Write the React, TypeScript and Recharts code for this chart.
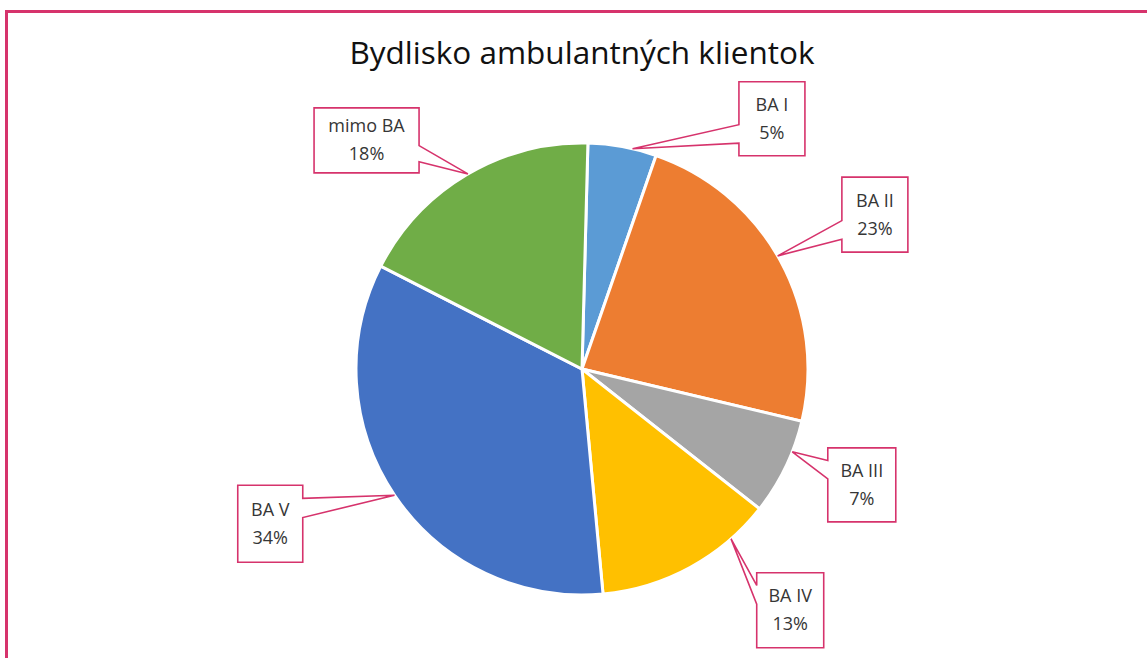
import React from 'react';
import { PieChart, Pie, Cell } from 'recharts';

const TITLE = 'Bydlisko ambulantných klientok';
const names = ['BA I', 'BA II', 'BA III', 'BA IV', 'BA V', 'mimo BA'];
const values = [4.9, 23.4, 6.9, 12.9, 34.0, 17.9];
const colors = ['#5B9BD5', '#ED7D31', '#A5A5A5', '#FFC000', '#4472C4', '#70AD47'];

const data = names.map((name, i) => ({ name, value: values[i] }));

// callout placement: box centre angle (deg clockwise from top), distance in
// multiples of the outer radius, box size, and tip shift from the mid-angle
const LABEL_LAYOUT = [
  { angle: 37.2, dist: 1.39, w: 66, h: 74, tipShift: 2.6 },
  { angle: 62.2, dist: 1.465, w: 66, h: 75, tipShift: -1.3 },
  { angle: 112.5, dist: 1.34, w: 68, h: 74, tipShift: -4.3 },
  { angle: 139.2, dist: 1.41, w: 67, h: 75, tipShift: -12.7 },
  { angle: 243.6, dist: 1.54, w: 65, h: 77, tipShift: 0.2 },
  { angle: 316.7, dist: 1.39, w: 105, h: 65, tipShift: 0.4 },
];

const PINK = '#d6336c';
const RAD = Math.PI / 180;
const FONT = "'Open Sans', sans-serif";

function calloutPath(x0: number, y0: number, x1: number, y1: number, tx: number, ty: number) {
  const w = x1 - x0;
  const h = y1 - y0;
  const cy = (y0 + y1) / 2;
  const cx = (x0 + x1) / 2;
  if (tx < x0 || tx > x1) {
    const low = ty > cy;
    const a = low ? y0 + 0.58 * h : y0 + 0.17 * h;
    const b = low ? y0 + 0.83 * h : y0 + 0.42 * h;
    if (tx < x0) {
      return `M${x0},${y0} L${x1},${y0} L${x1},${y1} L${x0},${y1} L${x0},${b} L${tx},${ty} L${x0},${a} Z`;
    }
    return `M${x0},${y0} L${x1},${y0} L${x1},${a} L${tx},${ty} L${x1},${b} L${x1},${y1} L${x0},${y1} Z`;
  }
  const right = tx > cx;
  const a = right ? x0 + 0.58 * w : x0 + 0.17 * w;
  const b = right ? x0 + 0.83 * w : x0 + 0.42 * w;
  if (ty < y0) {
    return `M${x0},${y0} L${a},${y0} L${tx},${ty} L${b},${y0} L${x1},${y0} L${x1},${y1} L${x0},${y1} Z`;
  }
  return `M${x0},${y0} L${x1},${y0} L${x1},${y1} L${b},${y1} L${tx},${ty} L${a},${y1} L${x0},${y1} Z`;
}

const renderLabel = (props: any) => {
  const { cx, cy, midAngle, outerRadius, percent, index, name } = props;
  const lay = LABEL_LAYOUT[index];
  const mid = 90 - midAngle; // clockwise from top
  const tipA = (mid + lay.tipShift) * RAD;
  const tx = cx + outerRadius * Math.sin(tipA);
  const ty = cy - outerRadius * Math.cos(tipA);
  const bA = lay.angle * RAD;
  const bx = cx + outerRadius * lay.dist * Math.sin(bA);
  const by = cy - outerRadius * lay.dist * Math.cos(bA);
  const x0 = bx - lay.w / 2;
  const x1 = bx + lay.w / 2;
  const y0 = by - lay.h / 2;
  const y1 = by + lay.h / 2;
  return (
    <g key={`lbl-${index}`}>
      <path d={calloutPath(x0, y0, x1, y1, tx, ty)} fill="#ffffff" stroke={PINK} strokeWidth={1.6} strokeLinejoin="miter" />
      <text x={bx} y={by - 8} textAnchor="middle" fontFamily={FONT} fontSize={18} fill="#363636">
        {name}
      </text>
      <text x={bx} y={by + 20} textAnchor="middle" fontFamily={FONT} fontSize={18} fill="#363636">
        {`${Math.round(percent * 100)}%`}
      </text>
    </g>
  );
};

export default function App() {
  return (
    <div style={{ position: 'fixed', left: 0, top: 0, width: 1147, height: 658, overflow: 'hidden', background: '#ffffff' }}>
      <div
        style={{
          position: 'absolute',
          left: 0,
          width: 1164,
          top: 30,
          textAlign: 'center',
          fontFamily: FONT,
          fontSize: 31.5,
          color: '#111111',
          lineHeight: '44px',
        }}
      >
        {TITLE}
      </div>
      <div style={{ position: 'absolute', left: 0, top: 0 }}>
        <PieChart width={1147} height={658} margin={{ top: 0, right: 0, bottom: 0, left: 0 }}>
          <Pie
            data={data}
            dataKey="value"
            nameKey="name"
            cx={582}
            cy={369}
            outerRadius={226}
            startAngle={88.5}
            endAngle={-271.5}
            stroke="#ffffff"
            strokeWidth={3}
            label={renderLabel}
            labelLine={false}
            isAnimationActive={false}
          >
            {data.map((d, i) => (
              <Cell key={d.name} fill={colors[i]} />
            ))}
          </Pie>
        </PieChart>
      </div>
      <div
        style={{
          position: 'absolute',
          left: 5,
          top: 10,
          width: 1160,
          height: 670,
          borderTop: `3px solid ${PINK}`,
          borderLeft: `3px solid ${PINK}`,
          boxSizing: 'border-box',
          pointerEvents: 'none',
        }}
      />
    </div>
  );
}
